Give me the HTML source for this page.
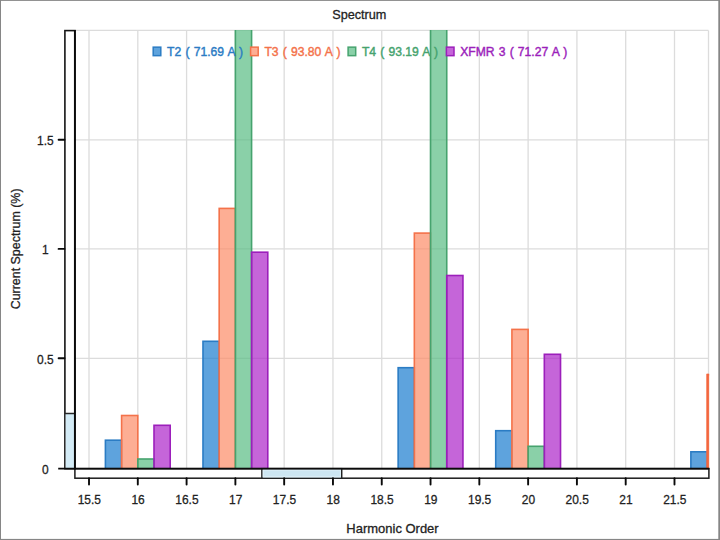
<!DOCTYPE html>
<html><head><meta charset="utf-8"><title>Spectrum</title>
<style>
html,body{margin:0;padding:0;background:#fff;width:720px;height:540px;overflow:hidden}
svg{display:block;position:absolute;left:0;top:0}
text{font-family:"Liberation Sans",sans-serif}
</style></head><body>
<svg width="720" height="540" viewBox="0 0 720 540">
<rect x="0" y="0" width="720" height="540" fill="#fff"/>
<g stroke="#dcdcdc" stroke-width="1.3" fill="none"><line x1="89.01" y1="30.4" x2="89.01" y2="468.7"/><line x1="137.80" y1="30.4" x2="137.80" y2="468.7"/><line x1="186.59" y1="30.4" x2="186.59" y2="468.7"/><line x1="235.38" y1="30.4" x2="235.38" y2="468.7"/><line x1="284.17" y1="30.4" x2="284.17" y2="468.7"/><line x1="332.96" y1="30.4" x2="332.96" y2="468.7"/><line x1="381.75" y1="30.4" x2="381.75" y2="468.7"/><line x1="430.54" y1="30.4" x2="430.54" y2="468.7"/><line x1="479.33" y1="30.4" x2="479.33" y2="468.7"/><line x1="528.12" y1="30.4" x2="528.12" y2="468.7"/><line x1="576.91" y1="30.4" x2="576.91" y2="468.7"/><line x1="625.70" y1="30.4" x2="625.70" y2="468.7"/><line x1="674.49" y1="30.4" x2="674.49" y2="468.7"/><line x1="74.9" y1="358.3" x2="708.5" y2="358.3"/><line x1="74.9" y1="248.9" x2="708.5" y2="248.9"/><line x1="74.9" y1="139.8" x2="708.5" y2="139.8"/><line x1="74.9" y1="30.4" x2="708.5" y2="30.4"/><line x1="708.5" y1="30.4" x2="708.5" y2="468.7"/></g>
<clipPath id="cp"><rect x="74.9" y="30.0" width="634.3" height="440.3"/></clipPath>
<g clip-path="url(#cp)"><rect x="105.40" y="440.20" width="16.20" height="32.30" fill="#1a7cce" fill-opacity="0.70" stroke="#2b7cc4" stroke-width="1.6"/><rect x="121.60" y="415.50" width="16.20" height="57.00" fill="#fc8b66" fill-opacity="0.70" stroke="#f4724a" stroke-width="1.6"/><rect x="137.80" y="459.00" width="16.20" height="13.50" fill="#59bc83" fill-opacity="0.70" stroke="#46a36e" stroke-width="1.6"/><rect x="154.00" y="425.30" width="16.20" height="47.20" fill="#ac24c9" fill-opacity="0.70" stroke="#9c1fbb" stroke-width="1.6"/><rect x="202.98" y="341.30" width="16.20" height="131.20" fill="#1a7cce" fill-opacity="0.70" stroke="#2b7cc4" stroke-width="1.6"/><rect x="219.18" y="208.40" width="16.20" height="264.10" fill="#fc8b66" fill-opacity="0.70" stroke="#f4724a" stroke-width="1.6"/><rect x="235.38" y="-19.20" width="16.20" height="491.70" fill="#59bc83" fill-opacity="0.70" stroke="#46a36e" stroke-width="1.6"/><rect x="251.58" y="252.20" width="16.20" height="220.30" fill="#ac24c9" fill-opacity="0.70" stroke="#9c1fbb" stroke-width="1.6"/><rect x="398.14" y="367.70" width="16.20" height="104.80" fill="#1a7cce" fill-opacity="0.70" stroke="#2b7cc4" stroke-width="1.6"/><rect x="414.34" y="233.10" width="16.20" height="239.40" fill="#fc8b66" fill-opacity="0.70" stroke="#f4724a" stroke-width="1.6"/><rect x="430.54" y="-19.20" width="16.20" height="491.70" fill="#59bc83" fill-opacity="0.70" stroke="#46a36e" stroke-width="1.6"/><rect x="446.74" y="275.50" width="16.20" height="197.00" fill="#ac24c9" fill-opacity="0.70" stroke="#9c1fbb" stroke-width="1.6"/><rect x="495.72" y="430.70" width="16.20" height="41.80" fill="#1a7cce" fill-opacity="0.70" stroke="#2b7cc4" stroke-width="1.6"/><rect x="511.92" y="329.40" width="16.20" height="143.10" fill="#fc8b66" fill-opacity="0.70" stroke="#f4724a" stroke-width="1.6"/><rect x="528.12" y="446.30" width="16.20" height="26.20" fill="#59bc83" fill-opacity="0.70" stroke="#46a36e" stroke-width="1.6"/><rect x="544.32" y="354.30" width="16.20" height="118.20" fill="#ac24c9" fill-opacity="0.70" stroke="#9c1fbb" stroke-width="1.6"/><rect x="690.88" y="451.80" width="16.20" height="20.70" fill="#1a7cce" fill-opacity="0.70" stroke="#2b7cc4" stroke-width="1.6"/><rect x="707.08" y="374.60" width="16.20" height="97.90" fill="#fc8b66" fill-opacity="0.70" stroke="#f4724a" stroke-width="1.6"/></g>
<line x1="707.9" y1="373.8" x2="707.9" y2="468" stroke="#f4663e" stroke-width="1.9"/>
<g font-size="13.6"><rect x="153.2" y="47.15" width="7.6" height="8.5" fill="#fff"/><rect x="153.2" y="47.15" width="7.6" height="8.5" fill="#1a7cce" fill-opacity="0.70" stroke="#2b7cc4" stroke-width="1.5"/><text transform="translate(167.10,55.60) scale(0.893,1)" text-anchor="start" fill="#2b7cc4" word-spacing="0.9" stroke="#2b7cc4" stroke-width="0.45">T2 ( 71.69 A )</text><rect x="250.6" y="47.15" width="7.6" height="8.5" fill="#fff"/><rect x="250.6" y="47.15" width="7.6" height="8.5" fill="#fc8b66" fill-opacity="0.70" stroke="#f4724a" stroke-width="1.5"/><text transform="translate(264.40,55.60) scale(0.893,1)" text-anchor="start" fill="#f4724a" word-spacing="0.9" stroke="#f4724a" stroke-width="0.45">T3 ( 93.80 A )</text><rect x="348.1" y="47.15" width="7.6" height="8.5" fill="#fff"/><rect x="348.1" y="47.15" width="7.6" height="8.5" fill="#59bc83" fill-opacity="0.70" stroke="#46a36e" stroke-width="1.5"/><text transform="translate(361.90,55.60) scale(0.893,1)" text-anchor="start" fill="#46a36e" word-spacing="0.9" stroke="#46a36e" stroke-width="0.45">T4 ( 93.19 A )</text><rect x="446.4" y="47.15" width="7.6" height="8.5" fill="#fff"/><rect x="446.4" y="47.15" width="7.6" height="8.5" fill="#ac24c9" fill-opacity="0.70" stroke="#9c1fbb" stroke-width="1.5"/><text transform="translate(460.20,55.60) scale(0.893,1)" text-anchor="start" fill="#9c1fbb" word-spacing="0.9" stroke="#9c1fbb" stroke-width="0.45">XFMR 3 ( 71.27 A )</text></g>
<rect x="64.9" y="30.6" width="10" height="438.1" fill="#fff" stroke="#151515" stroke-width="1.6"/>
<rect x="65.7" y="414" width="8.3" height="54" fill="#d3ebf6"/>
<line x1="64.9" y1="413.5" x2="74.9" y2="413.5" stroke="#262626" stroke-width="1.5"/>
<rect x="74.9" y="468.7" width="634" height="9.5" fill="#fff" stroke="#1c1c1c" stroke-width="1.5"/>
<rect x="261.9" y="468.7" width="79.8" height="9.5" fill="#cde6f2" stroke="#222" stroke-width="1.5"/>
<rect x="263.2" y="470.0" width="77.2" height="6.9" fill="none" stroke="#e3f2f9" stroke-width="1"/>
<line x1="74.9" y1="30" x2="74.9" y2="469.5" stroke="#0a0a0a" stroke-width="1.9"/>
<line x1="58.2" y1="468.7" x2="709.3" y2="468.7" stroke="#0a0a0a" stroke-width="1.8"/>
<g stroke="#0a0a0a" stroke-width="1.9" stroke-linecap="round"><line x1="58.6" y1="358.3" x2="64.5" y2="358.3"/><line x1="58.6" y1="248.9" x2="64.5" y2="248.9"/><line x1="58.6" y1="139.8" x2="64.5" y2="139.8"/><line x1="89.01" y1="478.2" x2="89.01" y2="484.5"/><line x1="137.80" y1="478.2" x2="137.80" y2="484.5"/><line x1="186.59" y1="478.2" x2="186.59" y2="484.5"/><line x1="235.38" y1="478.2" x2="235.38" y2="484.5"/><line x1="284.17" y1="478.2" x2="284.17" y2="484.5"/><line x1="332.96" y1="478.2" x2="332.96" y2="484.5"/><line x1="381.75" y1="478.2" x2="381.75" y2="484.5"/><line x1="430.54" y1="478.2" x2="430.54" y2="484.5"/><line x1="479.33" y1="478.2" x2="479.33" y2="484.5"/><line x1="528.12" y1="478.2" x2="528.12" y2="484.5"/><line x1="576.91" y1="478.2" x2="576.91" y2="484.5"/><line x1="625.70" y1="478.2" x2="625.70" y2="484.5"/><line x1="674.49" y1="478.2" x2="674.49" y2="484.5"/></g>
<g font-size="13.6" stroke="#222" stroke-width="0.3"><text transform="translate(45.30,474.10) scale(0.880,1)" text-anchor="middle" fill="#222" >0</text><text transform="translate(45.30,363.70) scale(0.880,1)" text-anchor="middle" fill="#222" >0.5</text><text transform="translate(45.30,254.30) scale(0.880,1)" text-anchor="middle" fill="#222" >1</text><text transform="translate(45.30,145.20) scale(0.880,1)" text-anchor="middle" fill="#222" >1.5</text><text transform="translate(89.31,503.50) scale(0.880,1)" text-anchor="middle" fill="#222" >15.5</text><text transform="translate(138.10,503.50) scale(0.880,1)" text-anchor="middle" fill="#222" >16</text><text transform="translate(186.89,503.50) scale(0.880,1)" text-anchor="middle" fill="#222" >16.5</text><text transform="translate(235.68,503.50) scale(0.880,1)" text-anchor="middle" fill="#222" >17</text><text transform="translate(284.47,503.50) scale(0.880,1)" text-anchor="middle" fill="#222" >17.5</text><text transform="translate(333.26,503.50) scale(0.880,1)" text-anchor="middle" fill="#222" >18</text><text transform="translate(382.05,503.50) scale(0.880,1)" text-anchor="middle" fill="#222" >18.5</text><text transform="translate(430.84,503.50) scale(0.880,1)" text-anchor="middle" fill="#222" >19</text><text transform="translate(479.63,503.50) scale(0.880,1)" text-anchor="middle" fill="#222" >19.5</text><text transform="translate(528.42,503.50) scale(0.880,1)" text-anchor="middle" fill="#222" >20</text><text transform="translate(577.21,503.50) scale(0.880,1)" text-anchor="middle" fill="#222" >20.5</text><text transform="translate(626.00,503.50) scale(0.880,1)" text-anchor="middle" fill="#222" >21</text><text transform="translate(674.79,503.50) scale(0.880,1)" text-anchor="middle" fill="#222" >21.5</text><text transform="translate(359.30,19.20) scale(0.933,1)" text-anchor="middle" fill="#222" >Spectrum</text><text transform="translate(392.50,532.80) scale(0.955,1)" text-anchor="middle" fill="#222" >Harmonic Order</text><text transform="translate(20.20,248.90) rotate(-90) scale(0.915,1)" text-anchor="middle" fill="#222" >Current Spectrum (%)</text></g>
<g fill="#868686"><rect x="0" y="0" width="720" height="0.9"/><rect x="0" y="0" width="1" height="540"/><rect x="718.3" y="0" width="1.7" height="540"/><rect x="0" y="538.9" width="720" height="1.1"/></g>
</svg>
</body></html>
